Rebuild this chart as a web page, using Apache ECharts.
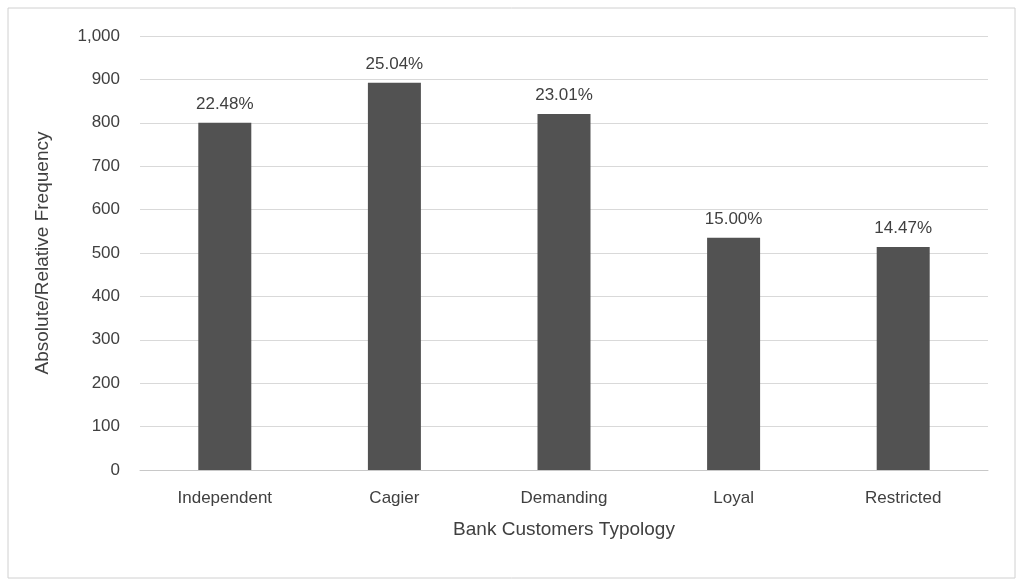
<!DOCTYPE html>
<html><head><meta charset="utf-8">
<script src="https://cdn.jsdelivr.net/npm/echarts@6/dist/echarts.min.js"></script>
<style>html,body{margin:0;padding:0;background:#fff}#c{width:1024px;height:587px}</style>
</head><body><div id="c"></div>
<script>
const categories = ["Independent","Cagier","Demanding","Loyal","Restricted"];
const values = [800, 892, 820, 535, 514];
const pctLabels = ["22.48%","25.04%","23.01%","15.00%","14.47%"];
const chart = echarts.init(document.getElementById('c'));
const font = 'Liberation Sans';
chart.setOption({
  animation:false,
  graphic:[{type:'rect',shape:{x:8,y:8,width:1007,height:570},style:{fill:'none',stroke:'#d0d0d0',lineWidth:1}}],
  grid:{left:140,right:36,top:36,bottom:117},
  xAxis:{type:'category',data:categories,
    name:'Bank Customers Typology',nameLocation:'middle',nameGap:50,
    nameTextStyle:{fontFamily:font,fontSize:19,color:'#404040'},
    axisLine:{lineStyle:{color:'#c8c8c8'}},axisTick:{show:false},
    axisLabel:{fontFamily:font,fontSize:17,color:'#404040',margin:20}},
  yAxis:{type:'value',min:0,max:1000,interval:100,
    name:'Absolute/Relative Frequency',nameLocation:'middle',nameGap:88,
    nameTextStyle:{fontFamily:font,fontSize:19,color:'#404040'},
    axisLine:{show:false},axisTick:{show:false},
    splitLine:{lineStyle:{color:'#d9d9d9'}},
    axisLabel:{fontFamily:font,fontSize:17,color:'#404040',margin:20}},
  series:[{type:'bar',data:values,barWidth:53,itemStyle:{color:'#525252'},
    label:{show:true,position:'top',distance:10,fontFamily:font,fontSize:17,color:'#404040',
      formatter:p=>pctLabels[p.dataIndex]}}]
});
</script></body></html>
